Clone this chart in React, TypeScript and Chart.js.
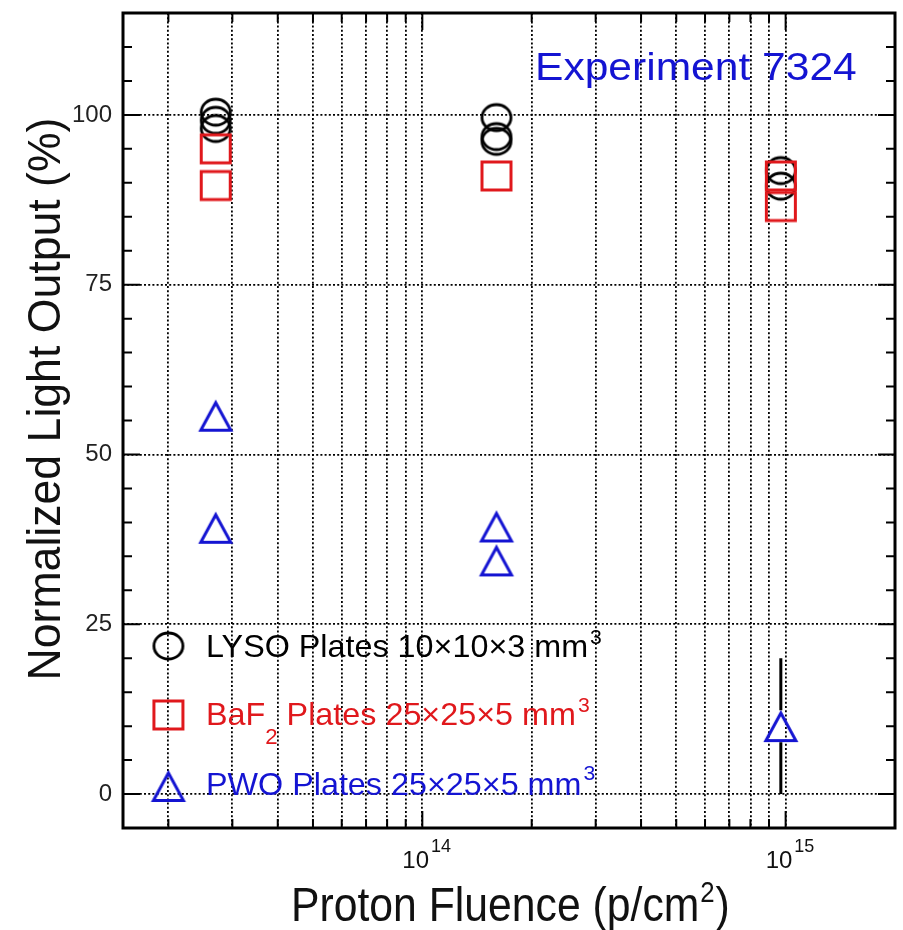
import React, { useEffect, useRef } from 'react';
import { Chart, registerables } from 'chart.js';

Chart.register(...registerables);

// ---------- data ----------
const lysoFluence = [2.7e13, 2.7e13, 2.7e13, 1.6e14, 1.6e14, 1.6e14, 9.7e14, 9.7e14];
const lysoValues = [100.4, 99.2, 98.0, 99.6, 96.8, 96.1, 91.8, 89.5];

const baf2Fluence = [2.7e13, 2.7e13, 1.6e14, 9.7e14, 9.7e14];
const baf2Values = [95.0, 89.6, 91.0, 91.0, 86.5];

const pwoFluence = [2.7e13, 2.7e13, 1.6e14, 1.6e14, 9.7e14];
const pwoValues = [55.7, 39.2, 39.4, 34.4, 10.0];
const pwoErrMinus = [0, 0, 0, 0, 10];
const pwoErrPlus = [0, 0, 0, 0, 10];

const xGridValues = [
  2e13, 3e13, 4e13, 5e13, 6e13, 7e13, 8e13, 9e13, 1e14,
  2e14, 3e14, 4e14, 5e14, 6e14, 7e14, 8e14, 9e14, 1e15,
];
const xDecadeValues = [1e14, 1e15];
const xDecadeExponents = ['14', '15'];
const yTickValues = [0, 25, 50, 75, 100];
const yMinorStep = 5;

const FONT = "'Liberation Sans', Arial, Helvetica, sans-serif";
const BLACK = '#000000';
const RED = '#e0181c';
const BLUE = '#1414d2';

// ---------- marker images ----------
function makeMarker(kind: 'circle' | 'square' | 'triangle', color: string): HTMLCanvasElement {
  const c = document.createElement('canvas');
  const W = 40, H = 38;
  c.width = W; c.height = H;
  const g = c.getContext('2d')!;
  const cx = W / 2, cy = H / 2;
  g.strokeStyle = color;
  g.lineJoin = 'miter';
  if (kind === 'circle') {
    g.lineWidth = 2.8;
    g.beginPath();
    g.ellipse(cx, cy, 14.5, 13, 0, 0, Math.PI * 2);
    g.stroke();
  } else if (kind === 'square') {
    g.lineWidth = 3;
    g.strokeRect(cx - 14.5, cy - 14, 29, 28);
  } else {
    g.lineWidth = 3;
    g.beginPath();
    g.moveTo(cx, cy - 13);
    g.lineTo(cx + 15, cy + 14.5);
    g.lineTo(cx - 15, cy + 14.5);
    g.closePath();
    g.stroke();
  }
  return c;
}

type Seg = { t: string; size: number; dy?: number; dx?: number };

function drawRich(
  ctx: CanvasRenderingContext2D,
  x: number,
  y: number,
  segs: Seg[],
  color: string,
  sx = 1,
  align: 'left' | 'center' = 'left',
) {
  ctx.save();
  ctx.translate(x, y);
  ctx.scale(sx, 1);
  ctx.fillStyle = color;
  ctx.textBaseline = 'alphabetic';
  ctx.textAlign = 'left';
  const widths = segs.map((s) => {
    ctx.font = `${s.size}px ${FONT}`;
    return ctx.measureText(s.t).width + (s.dx || 0);
  });
  const total = widths.reduce((a, b) => a + b, 0);
  let cx = align === 'center' ? -total / 2 : 0;
  segs.forEach((s, i) => {
    ctx.font = `${s.size}px ${FONT}`;
    ctx.fillText(s.t, cx + (s.dx || 0), s.dy || 0);
    cx += widths[i];
  });
  ctx.restore();
}

export default function App() {
  const ref = useRef<HTMLCanvasElement>(null);

  useEffect(() => {
    const canvas = ref.current!;
    const circleImg = makeMarker('circle', BLACK);
    const squareImg = makeMarker('square', RED);
    const triImg = makeMarker('triangle', BLUE);

    const decorPlugin = {
      id: 'decor',
      afterDatasetsDraw(chart: any) {
        const ctx: CanvasRenderingContext2D = chart.ctx;
        const xs = chart.scales.x;
        const ys = chart.scales.y;
        // error bars with a gap around the marker
        ctx.save();
        ctx.strokeStyle = BLACK;
        ctx.lineWidth = 3;
        pwoFluence.forEach((f, i) => {
          if (!pwoErrMinus[i] && !pwoErrPlus[i]) return;
          const px = xs.getPixelForValue(f);
          const py = ys.getPixelForValue(pwoValues[i]);
          const lo = ys.getPixelForValue(pwoValues[i] - pwoErrMinus[i]);
          const hi = ys.getPixelForValue(pwoValues[i] + pwoErrPlus[i]);
          const half = 16;
          ctx.beginPath();
          ctx.moveTo(px, lo);
          ctx.lineTo(px, py + half);
          ctx.moveTo(px, py - half);
          ctx.lineTo(px, hi);
          ctx.stroke();
        });
        ctx.restore();
      },
      afterDraw(chart: any) {
        const ctx: CanvasRenderingContext2D = chart.ctx;
        const a = chart.chartArea;
        const xs = chart.scales.x;
        const ys = chart.scales.y;
        ctx.save();
        // inward ticks
        ctx.strokeStyle = BLACK;
        ctx.lineWidth = 2;
        ctx.beginPath();
        for (let v = 0; v <= 110; v += yMinorStep) {
          const py = ys.getPixelForValue(v);
          const len = v % 25 === 0 ? 17 : 9;
          ctx.moveTo(a.left, py); ctx.lineTo(a.left + len, py);
          ctx.moveTo(a.right, py); ctx.lineTo(a.right - len, py);
        }
        xGridValues.forEach((v) => {
          const px = xs.getPixelForValue(v);
          const len = xDecadeValues.includes(v) ? 17 : 9;
          ctx.moveTo(px, a.bottom); ctx.lineTo(px, a.bottom - len);
          ctx.moveTo(px, a.top); ctx.lineTo(px, a.top + len);
        });
        ctx.stroke();
        // frame
        ctx.lineWidth = 3;
        ctx.strokeRect(a.left, a.top, a.right - a.left, a.bottom - a.top);
        ctx.restore();

        // x tick labels (10^n)
        xDecadeValues.forEach((v, i) => {
          const px = xs.getPixelForValue(v);
          drawRich(ctx, px - 20, 868, [
            { t: '10', size: 24 },
            { t: xDecadeExponents[i], size: 18, dy: -16, dx: 2 },
          ], '#111');
        });

        // axis titles
        drawRich(ctx, 291, 921, [
          { t: 'Proton Fluence (p/cm', size: 48 },
          { t: '2', size: 29, dy: -19, dx: 1 },
          { t: ')', size: 48, dx: 1 },
        ], '#111', 0.89);

        ctx.save();
        ctx.translate(60, 399);
        ctx.rotate(-Math.PI / 2);
        drawRich(ctx, 0, 0, [{ t: 'Normalized Light Output (%)', size: 46 }], '#111', 0.97, 'center');
        ctx.restore();

        // experiment label
        drawRich(ctx, 535, 80, [{ t: 'Experiment 7324', size: 38 }], BLUE, 1.12);

        // legend
        const lx = xs.getPixelForValue(2e13);
        const rows = [
          { img: circleImg, cy: 646, base: 657, color: BLACK, segs: [
            { t: 'LYSO Plates 10×10×3 mm', size: 32 },
            { t: '3', size: 21, dy: -13, dx: 2 },
          ] as Seg[] },
          { img: squareImg, cy: 715, base: 725, color: RED, segs: [
            { t: 'BaF', size: 32 },
            { t: '2', size: 22, dy: 19 },
            { t: ' Plates 25×25×5 mm', size: 32 },
            { t: '3', size: 21, dy: -13, dx: 2 },
          ] as Seg[] },
          { img: triImg, cy: 786, base: 795, color: BLUE, segs: [
            { t: 'PWO Plates 25×25×5 mm', size: 32 },
            { t: '3', size: 21, dy: -15, dx: 2 },
          ] as Seg[] },
        ];
        rows.forEach((r) => {
          ctx.drawImage(r.img, lx - r.img.width / 2, r.cy - r.img.height / 2);
          drawRich(ctx, 206, r.base, r.segs, r.color, 1.01);
        });
      },
    };

    const gridCommon = {
      color: '#000',
      lineWidth: 1.8,
      drawTicks: false,
    };

    const chart = new Chart(canvas, {
      type: 'scatter',
      data: {
        datasets: [
          {
            label: 'BaF2 Plates 25×25×5 mm3',
            data: baf2Fluence.map((x, i) => ({ x, y: baf2Values[i] })),
            pointStyle: squareImg as any,
            pointRadius: 16,
            pointHoverRadius: 16,
            showLine: false,
          },
          {
            label: 'LYSO Plates 10×10×3 mm3',
            data: lysoFluence.map((x, i) => ({ x, y: lysoValues[i] })),
            pointStyle: circleImg as any,
            pointRadius: 16,
            pointHoverRadius: 16,
            showLine: false,
          },
          {
            label: 'PWO Plates 25×25×5 mm3',
            data: pwoFluence.map((x, i) => ({ x, y: pwoValues[i] })),
            pointStyle: triImg as any,
            pointRadius: 16,
            pointHoverRadius: 16,
            showLine: false,
          },
        ],
      },
      options: {
        responsive: false,
        animation: false,
        layout: { autoPadding: false, padding: { top: 13, right: 8, left: 0, bottom: 0 } },
        plugins: {
          legend: { display: false },
          tooltip: { enabled: false },
        },
        events: [],
        scales: {
          x: {
            type: 'logarithmic',
            min: 1.5e13,
            max: 2e15,
            afterBuildTicks: (s: any) => {
              s.ticks = xGridValues.map((v) => ({ value: v }));
            },
            ticks: { display: false },
            grid: gridCommon,
            border: { display: false, dash: [2, 2.2] },
            afterFit: (s: any) => {
              s.height = 102;
              s.paddingLeft = 0;
              s.paddingRight = 0;
            },
          },
          y: {
            type: 'linear',
            min: -5,
            max: 115,
            afterBuildTicks: (s: any) => {
              s.ticks = yTickValues.map((v) => ({ value: v }));
            },
            ticks: {
              font: { family: FONT, size: 24 },
              color: '#222',
              padding: 11,
              callback: (v: any) => String(v),
            },
            grid: gridCommon,
            border: { display: false, dash: [2, 2.2] },
            afterFit: (s: any) => {
              s.width = 123;
              s.paddingTop = 0;
              s.paddingBottom = 0;
            },
          },
        },
      },
      plugins: [decorPlugin],
    });
    return () => chart.destroy();
  }, []);

  return (
    <div style={{ position: 'absolute', left: 0, top: 0, width: 903, height: 930, background: '#fff' }}>
      <canvas ref={ref} width={903} height={930} style={{ display: 'block' }} />
    </div>
  );
}
